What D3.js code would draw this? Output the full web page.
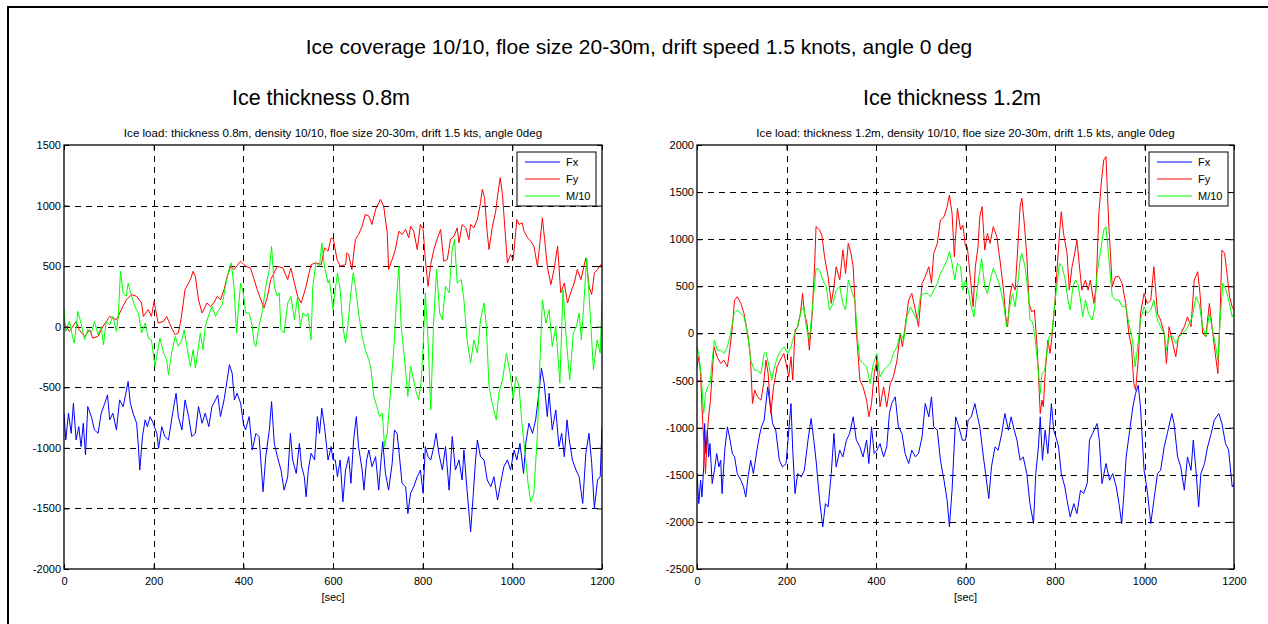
<!DOCTYPE html>
<html><head><meta charset="utf-8">
<script src="https://cdn.jsdelivr.net/npm/d3@7"></script>
<style>
body{margin:0;background:#fff}
svg{display:block}
text{font-family:Arial,"Liberation Sans",Helvetica,sans-serif;fill:#000}
</style>
</head><body>
<svg id="c" width="1268" height="624"></svg>
<script>
// ---------------- DATA ----------------
const xTicks = [0,200,400,600,800,1000,1200];
const yTicksLeft = [1500,1000,500,0,-500,-1000,-1500,-2000];
const yTicksRight = [2000,1500,1000,500,0,-500,-1000,-1500,-2000,-2500];
const seriesNames = ["Fx","Fy","M/10"];
const seriesColors = ["#0000ff","#ff0000","#00ff00"];
const mainTitle = "Ice coverage 10/10, floe size 20-30m, drift speed 1.5 knots, angle 0 deg";
const panelTitles = ["Ice thickness 0.8m","Ice thickness 1.2m"];
const axesTitles = ["Ice load: thickness 0.8m, density 10/10, floe size 20-30m, drift 1.5 kts, angle 0deg",
                    "Ice load: thickness 1.2m, density 10/10, floe size 20-30m, drift 1.5 kts, angle 0deg"];
const xLabel = "[sec]";

// [time sec, value]
const leftFx = [[0,-714],[4,-935],[10,-714],[16,-880],[21,-632],[27,-935],[33,-825],[38,-990],[43,-797],[48,-1059],[53,-659],[61,-742],[68,-852],[76,-880],[83,-714],[91,-632],[97,-563],[102,-769],[109,-714],[117,-852],[124,-604],[132,-659],[138,-549],[143,-452],[148,-632],[154,-714],[162,-797],[166,-990],[169,-1183],[175,-907],[181,-769],[186,-825],[192,-742],[199,-797],[207,-880],[211,-1004],[218,-825],[225,-907],[233,-935],[240,-769],[246,-632],[250,-549],[255,-742],[263,-852],[270,-604],[278,-742],[285,-907],[293,-880],[300,-659],[308,-797],[315,-714],[323,-825],[330,-659],[338,-604],[343,-563],[349,-742],[357,-604],[364,-439],[369,-314],[375,-383],[380,-604],[386,-549],[394,-632],[400,-797],[405,-852],[413,-742],[420,-1018],[428,-880],[435,-907],[439,-1100],[444,-1362],[450,-1073],[458,-852],[463,-618],[469,-963],[476,-1073],[484,-1183],[491,-1349],[499,-1238],[505,-880],[510,-1100],[518,-1211],[525,-963],[530,-1156],[536,-1238],[540,-1404],[545,-1183],[551,-1045],[559,-1100],[565,-742],[570,-880],[575,-673],[581,-825],[589,-1100],[596,-990],[600,-1100],[605,-1100],[610,-1238],[616,-1100],[622,-1445],[628,-1183],[635,-1073],[640,-1293],[646,-935],[652,-742],[657,-990],[665,-1183],[669,-1349],[675,-1100],[680,-1018],[687,-1156],[695,-1073],[702,-1349],[706,-1156],[711,-949],[717,-1211],[724,-1349],[732,-1128],[737,-852],[743,-880],[749,-1100],[754,-1293],[762,-1321],[767,-1542],[773,-1376],[780,-1321],[788,-1238],[795,-1183],[801,-1376],[806,-990],[812,-1073],[818,-1100],[825,-990],[830,-880],[836,-1045],[844,-1183],[851,-990],[859,-1349],[866,-907],[873,-1183],[881,-1100],[888,-1266],[892,-1018],[899,-1349],[907,-1693],[913,-1376],[918,-1100],[922,-935],[929,-1073],[937,-1100],[944,-1266],[952,-1321],[959,-1238],[967,-1431],[974,-1293],[981,-1156],[989,-1100],[996,-1183],[1004,-1018],[1010,-1100],[1017,-963],[1025,-1211],[1030,-963],[1037,-797],[1045,-880],[1052,-769],[1060,-521],[1065,-342],[1071,-466],[1078,-742],[1082,-549],[1089,-852],[1097,-687],[1104,-990],[1110,-880],[1116,-1073],[1122,-769],[1127,-935],[1134,-1100],[1142,-1183],[1149,-1238],[1157,-1459],[1164,-1045],[1171,-880],[1177,-1128],[1183,-1500],[1190,-1266],[1196,-1238],[1200,-825]];

const leftFy = [[0,30],[12,-39],[27,44],[34,-25],[46,-80],[57,-25],[64,-94],[76,-80],[87,3],[102,85],[117,58],[128,141],[139,223],[151,265],[162,251],[173,196],[177,85],[188,141],[195,85],[201,210],[210,30],[222,44],[229,85],[240,-11],[248,-66],[255,-52],[261,58],[270,306],[282,389],[288,458],[293,416],[300,223],[308,113],[319,196],[327,168],[334,196],[342,251],[349,223],[357,306],[364,416],[372,499],[379,472],[394,541],[405,499],[416,485],[424,389],[431,306],[439,223],[446,154],[454,251],[461,389],[476,499],[488,485],[499,389],[506,485],[514,361],[521,251],[529,196],[540,334],[551,513],[562,527],[574,513],[581,651],[589,623],[596,734],[601,720],[609,554],[616,499],[628,513],[631,610],[635,596],[642,472],[650,720],[657,761],[665,830],[672,927],[680,913],[687,844],[695,968],[706,1051],[713,996],[721,775],[724,472],[732,554],[739,637],[747,789],[754,761],[762,803],[769,734],[773,830],[780,789],[788,637],[795,844],[801,803],[806,554],[812,334],[818,513],[825,637],[832,720],[840,803],[847,541],[855,554],[862,720],[870,747],[877,816],[881,692],[888,844],[896,816],[903,720],[907,844],[914,816],[922,885],[929,1023],[933,1134],[938,1065],[944,775],[948,637],[955,816],[963,954],[967,1078],[973,1230],[978,1092],[983,830],[989,527],[996,596],[1002,554],[1010,885],[1015,844],[1022,858],[1026,789],[1034,734],[1041,706],[1048,665],[1056,499],[1060,637],[1067,899],[1072,720],[1078,499],[1086,348],[1093,472],[1101,665],[1108,279],[1116,361],[1123,196],[1130,279],[1138,361],[1145,472],[1153,389],[1164,568],[1171,334],[1177,265],[1183,444],[1190,472],[1197,513],[1200,500]];

const leftM = [[0,141],[4,-39],[12,44],[19,-80],[23,-135],[31,127],[38,30],[46,-108],[53,-25],[61,-52],[68,44],[76,-66],[83,3],[88,-149],[94,44],[102,17],[109,85],[117,-39],[121,85],[126,458],[132,279],[139,251],[143,361],[151,251],[158,168],[166,113],[173,-52],[181,30],[188,-94],[195,-108],[203,-328],[208,-218],[214,-94],[222,-218],[229,-273],[233,-397],[240,-218],[248,-80],[255,-163],[263,-108],[268,-25],[274,-163],[282,-328],[288,-190],[293,-342],[298,-218],[304,-52],[310,-190],[315,3],[323,99],[330,168],[338,85],[345,141],[353,182],[360,334],[368,472],[373,527],[379,334],[385,-52],[390,196],[394,361],[400,279],[405,113],[413,113],[420,3],[424,-135],[428,-163],[435,3],[443,141],[450,334],[458,472],[463,665],[469,334],[476,251],[480,279],[484,-25],[491,-52],[499,196],[506,251],[514,58],[521,251],[527,3],[533,113],[540,85],[544,113],[551,-108],[555,334],[562,527],[570,499],[575,692],[581,499],[589,361],[592,389],[600,141],[605,306],[610,444],[616,306],[622,3],[628,-135],[633,3],[639,251],[645,444],[650,334],[657,113],[665,-80],[672,-190],[680,-273],[685,-356],[691,-576],[698,-659],[704,-742],[710,-714],[715,-990],[721,-880],[728,-549],[736,-163],[742,251],[747,499],[752,3],[759,-245],[767,-576],[773,-328],[780,-439],[786,-549],[791,-604],[797,-439],[801,-163],[806,279],[812,-108],[818,-687],[824,3],[831,472],[838,113],[844,58],[851,334],[859,279],[866,637],[871,720],[877,361],[886,389],[892,223],[899,-108],[907,-301],[914,-108],[922,-218],[929,58],[937,196],[942,3],[948,-494],[955,-632],[964,-769],[970,-549],[978,-439],[987,-218],[995,-383],[1002,-604],[1008,-411],[1015,-494],[1022,-825],[1030,-1100],[1035,-1293],[1041,-1445],[1048,-1376],[1056,-880],[1062,-245],[1067,223],[1075,30],[1082,141],[1089,-163],[1097,3],[1106,-466],[1113,306],[1121,-135],[1128,-439],[1136,-52],[1143,3],[1149,113],[1154,-108],[1159,168],[1166,568],[1174,85],[1181,-356],[1189,-108],[1196,-218],[1200,210]];

const rightFx = [[0,-1487],[4,-1806],[8,-1558],[11,-1735],[15,-1416],[17,-956],[20,-1275],[23,-1027],[26,-1310],[29,-1169],[34,-1593],[39,-1452],[44,-1275],[49,-1416],[53,-1346],[56,-1700],[62,-1239],[68,-991],[74,-1133],[79,-1275],[84,-1310],[90,-1487],[98,-1558],[104,-1629],[109,-1735],[114,-1523],[120,-1346],[126,-1487],[134,-1239],[139,-1098],[144,-991],[150,-921],[158,-567],[164,-779],[169,-956],[176,-1027],[184,-1346],[191,-1416],[199,-1381],[204,-1098],[210,-744],[214,-1239],[219,-1700],[225,-1487],[233,-1523],[240,-1452],[248,-1133],[255,-903],[261,-1133],[266,-1346],[274,-1771],[281,-2054],[287,-1806],[293,-1841],[300,-1487],[306,-1062],[311,-1416],[319,-1239],[326,-1310],[334,-1133],[341,-1062],[349,-885],[356,-1133],[364,-1204],[371,-1310],[379,-1133],[384,-1381],[390,-991],[396,-1275],[402,-1239],[409,-1169],[417,-1310],[424,-1204],[430,-850],[435,-744],[443,-673],[450,-991],[458,-1062],[465,-1275],[473,-1381],[480,-1239],[488,-1310],[495,-1275],[503,-1098],[510,-744],[518,-885],[524,-673],[529,-991],[537,-1027],[544,-1346],[552,-1558],[559,-1771],[564,-2054],[570,-1664],[578,-885],[585,-991],[593,-1133],[600,-1133],[606,-921],[613,-885],[621,-744],[627,-885],[632,-991],[640,-1310],[645,-1487],[652,-1753],[658,-1416],[666,-1204],[673,-1239],[681,-1062],[688,-850],[696,-1027],[702,-885],[709,-1027],[715,-1133],[722,-1346],[729,-1310],[737,-1487],[744,-1806],[752,-2018],[757,-1487],[763,-1204],[767,-885],[772,-1346],[778,-1027],[784,-1275],[792,-744],[797,-1027],[802,-1098],[808,-1204],[814,-1487],[822,-1629],[827,-1771],[834,-1948],[842,-1806],[849,-1912],[857,-1664],[864,-1700],[872,-1593],[877,-1133],[884,-1062],[894,-956],[899,-1133],[905,-1593],[914,-1381],[922,-1558],[929,-1487],[937,-1629],[943,-1806],[949,-2018],[954,-1700],[959,-1310],[967,-1027],[974,-779],[980,-637],[986,-549],[991,-779],[999,-1452],[1006,-1664],[1014,-2018],[1021,-1771],[1029,-1487],[1036,-1452],[1044,-1204],[1051,-1062],[1061,-850],[1066,-956],[1074,-1310],[1081,-1416],[1089,-1664],[1096,-1310],[1104,-1452],[1109,-1133],[1115,-1452],[1121,-1841],[1126,-1487],[1134,-1381],[1141,-1204],[1149,-1062],[1156,-921],[1166,-850],[1173,-956],[1181,-1168],[1188,-1239],[1196,-1629],[1200,-1600]];

const rightFy = [[0,-354],[4,-248],[8,-425],[11,-779],[15,-1133],[19,-1487],[23,-1062],[26,-885],[30,-708],[34,-425],[38,-142],[45,-248],[53,-319],[60,-283],[68,-354],[74,-142],[79,71],[84,354],[90,390],[98,319],[105,212],[113,0],[119,-212],[124,-744],[129,-602],[135,-673],[143,-708],[149,-531],[154,-283],[159,-425],[165,-850],[171,-567],[179,-354],[186,-283],[194,-212],[199,-319],[205,-460],[210,-248],[214,-496],[219,35],[225,71],[231,212],[236,425],[240,212],[246,106],[251,-177],[257,177],[263,744],[266,1133],[274,1098],[279,1045],[285,814],[293,602],[300,319],[306,496],[311,708],[319,567],[326,885],[332,637],[338,956],[344,850],[349,708],[356,35],[364,-496],[371,-567],[379,-708],[384,-885],[390,-744],[396,-425],[402,-283],[409,-779],[417,-567],[424,-779],[432,-531],[439,-460],[447,-283],[454,0],[459,-142],[465,71],[473,354],[480,425],[488,248],[495,71],[503,531],[510,602],[518,708],[524,531],[529,850],[537,956],[544,1204],[552,1239],[559,1346],[564,1470],[570,1275],[575,814],[582,1328],[589,1098],[594,1151],[600,921],[604,921],[610,637],[617,283],[622,708],[628,921],[632,1239],[637,1346],[643,885],[649,1062],[655,956],[662,1133],[670,1027],[677,779],[685,460],[690,177],[694,71],[700,425],[705,531],[711,460],[717,921],[722,1346],[726,1434],[732,1133],[737,814],[742,319],[748,230],[754,248],[759,-71],[763,-425],[767,-850],[771,-708],[774,-779],[778,-425],[784,-71],[789,-212],[793,-35],[799,283],[804,637],[810,1062],[814,1292],[819,1062],[827,850],[832,460],[838,708],[844,850],[849,991],[854,744],[860,460],[868,567],[874,460],[879,567],[887,319],[892,496],[898,1275],[904,1629],[909,1841],[914,1877],[920,1169],[928,496],[935,602],[943,602],[950,531],[958,319],[965,0],[971,-142],[976,-531],[980,-602],[986,-283],[991,212],[999,425],[1006,319],[1014,354],[1021,708],[1029,212],[1036,142],[1044,0],[1049,-319],[1055,71],[1063,-106],[1070,-248],[1076,-35],[1081,0],[1089,71],[1096,177],[1104,71],[1111,567],[1119,655],[1124,425],[1130,0],[1137,-35],[1145,319],[1151,71],[1158,-212],[1164,-425],[1169,212],[1173,885],[1179,850],[1186,567],[1190,390],[1196,283],[1200,248]];

const rightM = [[0,-142],[4,-212],[9,-425],[15,-850],[19,-637],[24,-567],[29,-531],[34,-283],[39,-71],[45,-177],[53,-177],[60,-212],[68,-142],[75,0],[83,212],[90,248],[98,212],[105,177],[113,0],[120,-283],[128,-390],[135,-390],[143,-425],[150,-212],[154,-195],[161,-354],[167,-496],[173,-354],[180,-248],[188,-177],[195,-142],[203,-212],[210,-142],[218,0],[225,71],[233,248],[239,283],[244,71],[251,-71],[259,319],[266,690],[274,673],[281,567],[289,496],[296,248],[304,319],[311,460],[319,496],[326,319],[332,248],[338,567],[345,460],[353,354],[359,-71],[364,-283],[371,-319],[379,-354],[387,-531],[394,-319],[402,-212],[409,-460],[417,-390],[424,-354],[432,-319],[439,-212],[447,-142],[454,0],[462,-71],[469,177],[477,283],[484,212],[492,142],[499,390],[507,425],[514,425],[522,390],[529,460],[537,531],[544,637],[552,708],[559,779],[564,868],[570,744],[576,567],[582,744],[589,708],[594,460],[600,567],[606,460],[613,283],[619,177],[625,425],[630,602],[636,797],[643,496],[649,425],[657,602],[662,690],[670,602],[677,496],[685,319],[692,71],[700,319],[705,425],[711,283],[717,531],[722,779],[726,850],[733,708],[741,390],[744,142],[750,124],[756,-71],[762,-354],[767,-637],[771,-425],[777,-390],[782,-177],[787,-35],[793,0],[799,283],[804,496],[810,744],[816,708],[823,567],[829,354],[834,248],[840,496],[846,567],[851,531],[857,354],[862,177],[868,354],[875,212],[883,142],[889,283],[894,637],[902,885],[909,1098],[914,1133],[920,814],[928,390],[935,354],[943,354],[950,283],[958,283],[965,106],[973,-71],[979,-354],[984,-177],[991,142],[999,283],[1006,212],[1014,248],[1021,354],[1029,142],[1036,71],[1044,0],[1049,-177],[1055,-35],[1063,-35],[1070,-106],[1078,-35],[1085,0],[1093,35],[1100,106],[1107,177],[1115,390],[1122,319],[1130,71],[1137,-35],[1145,212],[1152,35],[1158,-106],[1164,-283],[1169,142],[1175,531],[1182,460],[1190,319],[1196,177],[1200,212]];

// ---------------- DRAW ----------------
const svg = d3.select("#c");
const W = 1268, H = 624;

svg.append("rect").attr("x",0).attr("y",0).attr("width",W).attr("height",H).attr("fill","#fff");
// figure frame
svg.append("rect").attr("x",8).attr("y",7).attr("width",W+10).attr("height",H+10)
  .attr("fill","none").attr("stroke","#000").attr("stroke-width",2);

svg.append("text").attr("x",639).attr("y",54).attr("text-anchor","middle")
  .style("font-size","21px").text(mainTitle);

const panels = [
  {x0:64, x1:602, yDomain:[-2000,1500], yTicks:yTicksLeft, data:[leftFx,leftFy,leftM],
   title:panelTitles[0], titleX:321, sub:axesTitles[0]},
  {x0:697, x1:1234, yDomain:[-2500,2000], yTicks:yTicksRight, data:[rightFx,rightFy,rightM],
   title:panelTitles[1], titleX:952, sub:axesTitles[1]}
];

const yTop = 145, yBot = 569;

panels.forEach((p, pi) => {
  const x = d3.scaleLinear().domain([0,1200]).range([p.x0,p.x1]);
  const y = d3.scaleLinear().domain(p.yDomain).range([yBot,yTop]);
  const g = svg.append("g");

  svg.append("text").attr("x",p.titleX).attr("y",105).attr("text-anchor","middle")
    .style("font-size","21.5px").text(p.title);
  g.append("text").attr("x",(p.x0+p.x1)/2).attr("y",137).attr("text-anchor","middle")
    .style("font-size","11.6px").text(p.sub);

  // grid
  const grid = g.append("g").attr("stroke","#000").attr("stroke-width",1)
    .attr("stroke-dasharray","6,5").attr("shape-rendering","crispEdges");
  xTicks.slice(1,-1).forEach(t => {
    grid.append("line").attr("x1",Math.round(x(t))+0.5).attr("x2",Math.round(x(t))+0.5)
      .attr("y1",yTop).attr("y2",yBot);
  });
  p.yTicks.slice(1,-1).forEach(v => {
    grid.append("line").attr("y1",Math.round(y(v))+0.5).attr("y2",Math.round(y(v))+0.5)
      .attr("x1",p.x0).attr("x2",p.x1);
  });

  // clip
  const cid = "clip"+pi;
  svg.append("clipPath").attr("id",cid).append("rect")
    .attr("x",p.x0).attr("y",yTop).attr("width",p.x1-p.x0).attr("height",yBot-yTop);

  const line = d3.line().x(d => x(d[0])).y(d => y(d[1]));
  p.data.forEach((ser, si) => {
    g.append("path").datum(ser).attr("d",line).attr("fill","none")
      .attr("stroke",seriesColors[si]).attr("stroke-width",1)
      .attr("stroke-linejoin","round").attr("clip-path",`url(#${cid})`);
  });

  // axes with inward ticks
  const fontPx = "11px";
  const axB = g.append("g").attr("transform",`translate(0,${yBot})`)
    .call(d3.axisBottom(x).tickValues(xTicks).tickSizeInner(-5).tickSizeOuter(0).tickPadding(8).tickFormat(d3.format("d")));
  const axT = g.append("g").attr("transform",`translate(0,${yTop})`)
    .call(d3.axisTop(x).tickValues(xTicks).tickSizeInner(-5).tickSizeOuter(0).tickFormat(""));
  const axL = g.append("g").attr("transform",`translate(${p.x0},0)`)
    .call(d3.axisLeft(y).tickValues(p.yTicks).tickSizeInner(-5).tickSizeOuter(0).tickPadding(3).tickFormat(d3.format("d")));
  const axR = g.append("g").attr("transform",`translate(${p.x1},0)`)
    .call(d3.axisRight(y).tickValues(p.yTicks).tickSizeInner(-5).tickSizeOuter(0).tickFormat(""));
  [axB,axT,axL,axR].forEach(a => {
    a.selectAll(".domain").remove();
    a.selectAll("line").attr("stroke","#000");
    a.selectAll("text").style("font-size",fontPx).attr("font-family",null);
  });
  axL.selectAll("text").text(d => d < 0 ? "-" + Math.abs(d) : String(d));

  // box
  g.append("rect").attr("x",p.x0).attr("y",yTop).attr("width",p.x1-p.x0).attr("height",yBot-yTop)
    .attr("fill","none").attr("stroke","#000").attr("stroke-width",1.3);

  g.append("text").attr("x",(p.x0+p.x1)/2).attr("y",601).attr("text-anchor","middle")
    .style("font-size","11px").text(xLabel);

  // legend
  const lx = p.x1-85, ly = 152;
  const lg = g.append("g");
  lg.append("rect").attr("x",lx).attr("y",ly).attr("width",79).attr("height",54)
    .attr("fill","#fff").attr("stroke","#000").attr("stroke-width",1);
  seriesNames.forEach((n,i) => {
    const yy = ly + 10 + i*17;
    lg.append("line").attr("x1",lx+8).attr("x2",lx+43).attr("y1",yy).attr("y2",yy)
      .attr("stroke",seriesColors[i]).attr("stroke-width",1);
    lg.append("text").attr("x",lx+49).attr("y",yy).attr("dy","0.35em")
      .style("font-size","11px").text(n);
  });
});
</script>
</body></html>
